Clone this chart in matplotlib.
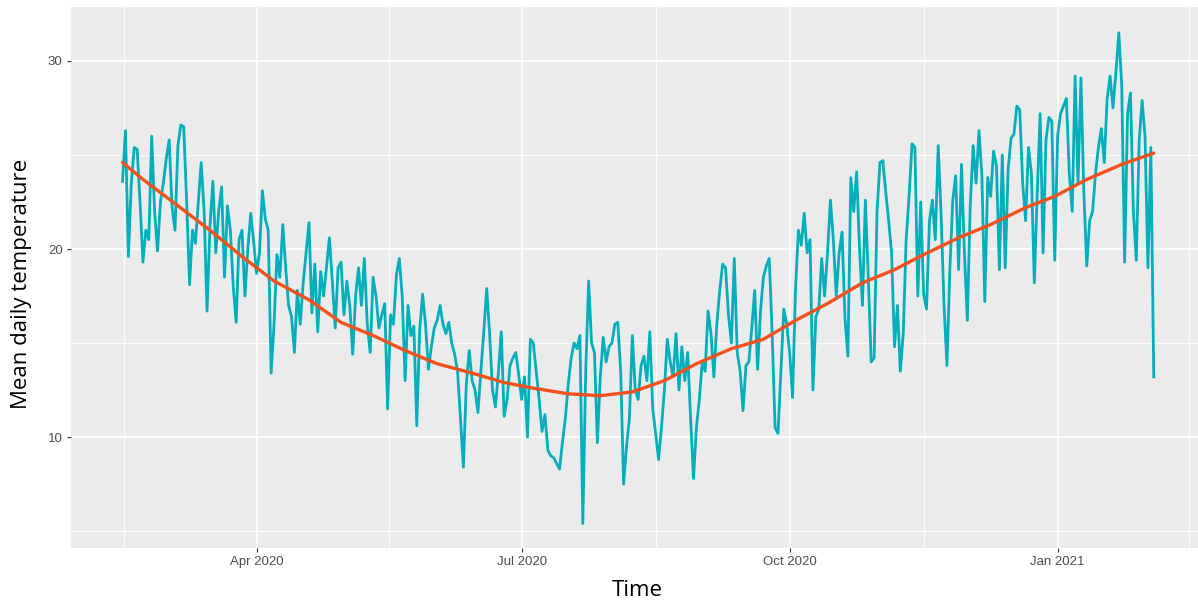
import numpy as np
import pandas as pd
import matplotlib
matplotlib.use("Agg")
import matplotlib.pyplot as plt
import matplotlib.dates as mdates

# Mean daily temperature, one value per day from 15 Feb 2020
temp_feb_apr = [23.6, 26.3, 19.6, 23.5, 25.4, 25.3, 22.5, 19.3, 21.0, 20.5,
                26.0, 22.0, 19.9, 22.5, 23.5, 24.8, 25.8, 22.2, 21.0, 25.5,
                26.6, 26.5, 22.5, 18.1, 21.0, 20.3, 22.5, 24.6, 22.0, 16.7,
                21.2, 23.6, 19.8, 22.0, 23.3, 18.5, 22.3, 21.0, 18.0, 16.1,
                20.5, 21.0, 17.5]
temp_apr_may = [20.0, 21.9, 20.4, 18.7, 19.8, 23.1, 21.6, 21.0, 13.4, 16.0,
                19.7, 18.5, 21.3, 19.0, 17.0, 16.4, 14.5, 17.8, 16.0, 18.2,
                19.8, 21.4, 16.6, 19.2, 15.6, 18.8, 17.5, 19.0, 20.6, 18.3,
                15.8, 19.0, 19.3, 16.5, 18.3, 17.0, 14.4, 17.5, 19.0, 17.0,
                19.5, 16.0, 14.5, 18.5]
temp_may_jul = [17.5, 15.8, 16.5, 17.1, 11.5, 16.5, 16.0, 18.6, 19.5, 17.5,
                13.0, 17.0, 15.4, 15.9, 10.6, 15.7, 17.6, 16.0, 13.6, 14.8,
                15.8, 16.2, 17.0, 16.0, 15.5, 16.1, 15.0, 14.4, 13.5, 11.0,
                8.4, 12.8, 14.6, 13.0, 12.5, 11.3, 13.5, 15.6, 17.9, 15.5,
                12.5, 11.6, 13.4, 15.6, 11.1]
temp_jul_aug = [12.0, 13.8, 14.2, 14.5, 13.3, 12.0, 13.2, 10.0, 15.2, 15.0,
                13.5, 12.0, 10.3, 11.2, 9.3, 9.0, 8.9, 8.6, 8.3, 9.7,
                11.0, 12.8, 14.2, 15.0, 14.7, 15.4, 5.4, 13.5, 18.3, 15.0,
                14.5, 9.7, 13.2, 15.3, 14.0, 14.8, 15.0, 16.0, 16.1, 13.5,
                7.5, 9.5, 11.0, 15.4, 12.5]
temp_aug_sep = [12.0, 13.8, 14.3, 13.0, 15.6, 11.5, 10.2, 8.8, 10.5, 12.5,
                15.2, 14.0, 13.2, 15.5, 12.5, 14.8, 13.0, 14.5, 11.0, 7.8,
                10.5, 12.0, 14.0, 13.5, 16.7, 15.5, 13.2, 16.0, 17.8, 19.2,
                19.0, 16.5, 15.0, 19.5, 14.5, 13.5, 11.4, 13.8, 14.0, 15.8,
                17.8, 13.6, 16.7, 18.5]
temp_oct_nov = [19.1, 19.5, 15.5, 10.5, 10.2, 13.5, 16.8, 16.0, 14.5, 12.1,
                17.8, 21.0, 20.2, 21.9, 19.8, 20.5, 12.5, 16.4, 16.8, 19.5,
                17.5, 19.8, 22.6, 20.5, 17.5, 19.8, 20.9, 16.3, 14.3, 23.8,
                22.0, 24.1, 20.0, 17.0, 22.6, 18.5, 14.0, 14.2, 22.0, 24.6,
                24.7, 23.0, 21.5, 19.8, 14.8]
temp_nov_dec = [17.0, 13.5, 15.5, 20.5, 22.8, 25.6, 25.4, 17.5, 22.5, 17.6,
                16.8, 21.5, 22.6, 20.5, 25.5, 21.8, 17.0, 13.8, 18.9, 22.6,
                23.9, 18.9, 24.5, 19.8, 16.2, 22.3, 25.5, 23.5, 26.3, 23.9,
                17.2, 23.8, 22.8, 25.2, 24.4, 18.9, 25.0, 19.0, 24.2, 25.9,
                26.1, 27.6, 27.4, 23.5, 21.5]
temp_dec_feb = [25.4, 24.0, 18.2, 23.0, 27.2, 19.8, 25.8, 27.0, 26.8, 19.4,
                26.0, 27.2, 27.6, 28.0, 24.0, 22.0, 29.2, 23.5, 29.1, 23.0,
                19.1, 21.5, 22.0, 24.0, 25.4, 26.4, 24.6, 28.0, 29.2, 27.5,
                29.4, 31.5, 28.7, 19.3, 27.2, 28.3, 22.0, 19.4, 25.8, 27.9,
                26.0, 19.0, 25.4, 13.2]

temps = (temp_feb_apr + temp_apr_may + temp_may_jul + temp_jul_aug
         + temp_aug_sep + temp_oct_nov + temp_nov_dec + temp_dec_feb)
dates = pd.date_range("2020-02-15", periods=len(temps), freq="D")

# Smoothed trend (day offset from first date, value)
trend_day = [0, 7, 19, 30, 41, 52, 64, 75, 86, 97, 108, 120, 131, 141, 153,
             164, 175, 186, 197, 209, 220, 231, 242, 254, 265, 275, 287, 298,
             310, 320, 331, 343, 354]
trend_val = [24.6, 23.7, 22.3, 21.0, 19.6, 18.3, 17.3, 16.1, 15.4, 14.6, 13.9,
             13.4, 12.9, 12.6, 12.3, 12.2, 12.4, 13.0, 13.9, 14.7, 15.2, 16.2,
             17.1, 18.2, 18.9, 19.7, 20.6, 21.3, 22.2, 22.8, 23.7, 24.5, 25.1]
trend_dates = dates[0] + pd.to_timedelta(trend_day, unit="D")

W, H = 1198, 602
fig = plt.figure(figsize=(W / 100, H / 100), dpi=100)

# panel geometry in pixels (ggplot-like 5% expansion on the date axis)
px_per_day = 2.913
span = (dates[-1] - dates[0]).days
pad = span * 0.05
left_px, top_px, bottom_px = 71, 7, 548
width_px = (span + 2 * pad) * px_per_day
ax = fig.add_axes([left_px / W, 1 - bottom_px / H, width_px / W,
                   (bottom_px - top_px) / H])

ax.set_facecolor("#EBEBEB")
for s in ax.spines.values():
    s.set_visible(False)

ax.plot(dates, temps, color="#00AFBB", linewidth=2.0, zorder=3)
ax.plot(trend_dates, trend_val, color="#F4511E", linewidth=2.4,
        solid_capstyle="round", zorder=4)

ax.set_xlim(dates[0] - pd.Timedelta(days=pad), dates[-1] + pd.Timedelta(days=pad))
ax.set_ylim(4.10, 32.87)

major = pd.to_datetime(["2020-04-01", "2020-07-01", "2020-10-01", "2021-01-01"])
edges = pd.to_datetime(["2020-01-01", "2020-04-01", "2020-07-01",
                        "2020-10-01", "2021-01-01", "2021-04-01"])
minor = [edges[i] + (edges[i + 1] - edges[i]) / 2 for i in range(len(edges) - 1)]
ax.set_xticks(major)
ax.set_xticks(minor, minor=True)
ax.xaxis.set_major_formatter(mdates.DateFormatter("%b %Y"))
ax.set_yticks([10, 20, 30])
ax.set_yticks([5, 15, 25], minor=True)

ax.grid(which="major", color="white", linewidth=1.2, zorder=0)
ax.grid(which="minor", color="white", linewidth=0.6, zorder=0)
ax.set_axisbelow(True)

ax.tick_params(which="major", length=3, width=0.8, color="#333333",
               labelcolor="#4D4D4D", labelsize=9.5, pad=3)
ax.tick_params(which="minor", length=0)
for lab in ax.get_xticklabels() + ax.get_yticklabels():
    lab.set_fontfamily("Liberation Sans")

fig.text(637 / W, 1 - 591 / H, "Time", fontsize=16,
         family="Open Sans", color="black", ha="center", va="center")
fig.text(22 / W, 1 - 284 / H, "Mean daily temperature", fontsize=16,
         family="Open Sans", color="black", ha="center", va="center",
         rotation=90)

fig.savefig("out.png", dpi=100)
